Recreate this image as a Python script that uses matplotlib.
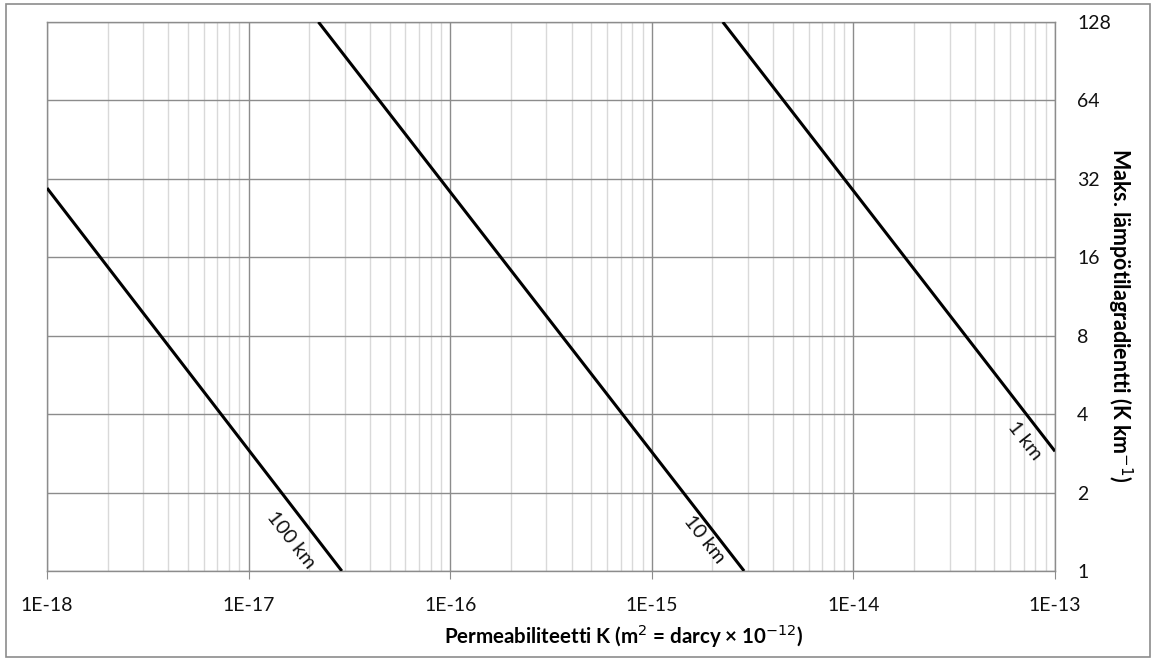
import matplotlib
matplotlib.use("Agg")
import matplotlib.pyplot as plt
from matplotlib.ticker import LogLocator, FixedLocator, FixedFormatter, NullFormatter
from matplotlib.patches import Rectangle

plt.rcParams['font.family'] = ['Lato', 'DejaVu Sans']

# Data: line endpoints (permeability K, max gradient)
line_names = ["100 km", "10 km", "1 km"]
line_x = [[1e-18, 2.9e-17], [2.22e-17, 2.87e-15], [2.25e-15, 1e-13]]
line_y = [[29.5, 1], [128, 1], [128, 2.88]]
label_x = [1.62e-17, 1.82e-15, 7.1e-14]
label_y = [1.32, 1.32, 3.15]

xticks = [1e-18, 1e-17, 1e-16, 1e-15, 1e-14, 1e-13]
xticklabels = ["1E-18", "1E-17", "1E-16", "1E-15", "1E-14", "1E-13"]
yticks = [1, 2, 4, 8, 16, 32, 64, 128]
yticklabels = ["1", "2", "4", "8", "16", "32", "64", "128"]

fig = plt.figure(figsize=(11.53, 6.61), dpi=100)
ax = fig.add_axes([47/1153, 90/661, (1055-47)/1153, (571-22)/661])

# outer frame
fig.patches.append(Rectangle((6/1153, 4/661), 1144/1153, 653/661, transform=fig.transFigure,
                             fill=False, edgecolor='#8c8c8c', linewidth=1.2))

ax.set_xscale('log')
ax.set_yscale('log', base=2)
ax.set_xlim(1e-18, 1e-13)
ax.set_ylim(1, 128)

for xs, ys in zip(line_x, line_y):
    ax.plot(xs, ys, color='black', linewidth=2.2, solid_capstyle='butt', zorder=3)

for name, lx, ly in zip(line_names, label_x, label_y):
    ax.text(lx, ly, name, rotation=-52, ha='center', va='center', fontsize=14.5, color='#111111', zorder=4)

ax.xaxis.set_major_locator(FixedLocator(xticks))
ax.xaxis.set_major_formatter(FixedFormatter(xticklabels))
ax.xaxis.set_minor_locator(LogLocator(base=10, subs=range(2, 10), numticks=20))
ax.xaxis.set_minor_formatter(NullFormatter())

ax.yaxis.set_major_locator(FixedLocator(yticks))
ax.yaxis.set_major_formatter(FixedFormatter(yticklabels))
ax.yaxis.set_minor_locator(FixedLocator([]))
ax.yaxis.tick_right()
ax.yaxis.set_label_position('right')

ax.grid(which='major', axis='both', color='#8c8c8c', linewidth=1.0, zorder=1)
ax.grid(which='minor', axis='x', color='#d9d9d9', linewidth=1.0, zorder=0)
ax.set_axisbelow(True)

for s in ax.spines.values():
    s.set_color('#8c8c8c')
    s.set_linewidth(1.0)

ax.tick_params(axis='x', which='major', length=6, color='#8c8c8c', direction='out', pad=13, labelsize=14, labelcolor='#111111')
ax.tick_params(axis='x', which='minor', length=0)
ax.tick_params(axis='y', which='major', length=0, pad=16, labelsize=14, labelcolor='#111111')

ax.set_xlabel("Permeabiliteetti K (m$^2$ = darcy × 10$^{-12}$)", fontsize=14.8, fontweight='bold')
ax.xaxis.set_label_coords((624 - 47) / 1008, -(636 - 571) / 549)
ax.set_ylabel("Maks. lämpötilagradientti (K km$^{-1}$)", fontsize=15.5, fontweight='bold', rotation=-90,
              va='center')
ax.yaxis.set_label_coords((1120 - 47) / 1008, (571 - 315) / 549)
ax.xaxis.label.set_va('center')

fig.savefig("out.png", dpi=100)
